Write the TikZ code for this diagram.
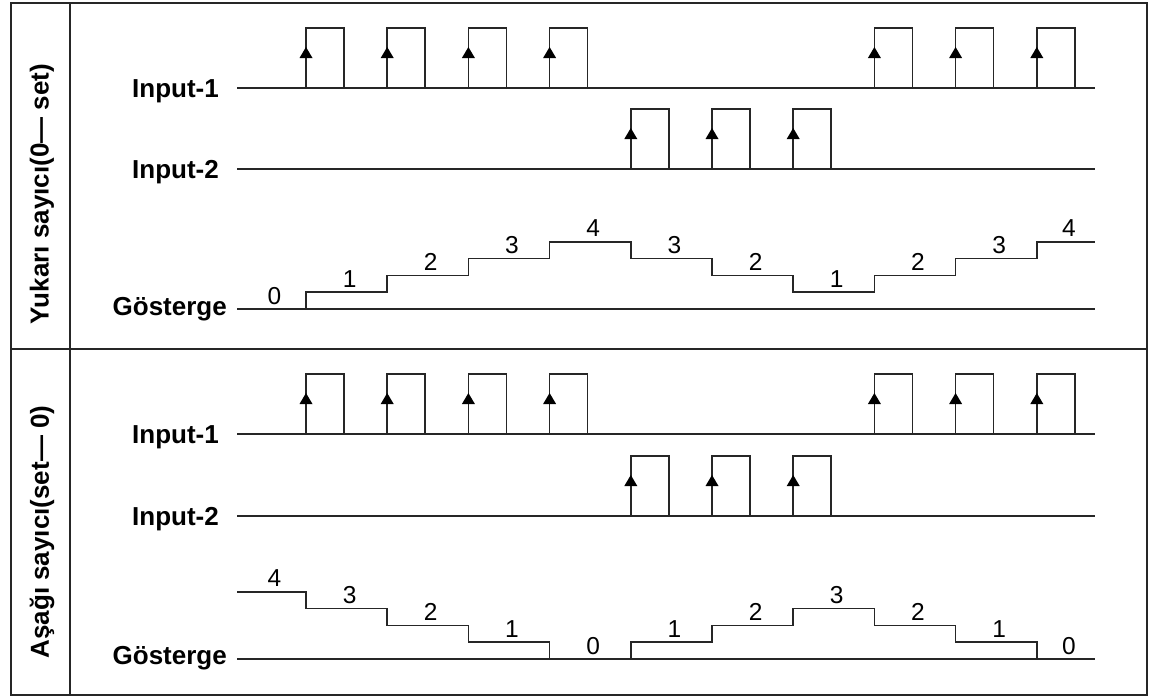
\documentclass[tikz,border=0pt]{standalone}
\usepackage{fontspec}
\setmainfont{Liberation Sans}
\begin{document}
\begin{tikzpicture}[x=1pt,y=-1pt,line join=miter,
  sig/.style={line width=1.6pt,draw=black!85},
  frame/.style={line width=1.8pt,draw=black!85},
  lbl/.style={font=\bfseries\fontsize{26}{28}\selectfont,anchor=base east,inner sep=0},
  num/.style={font=\fontsize{24.5}{26}\selectfont,anchor=base,inner sep=0},
  side/.style={font=\bfseries\fontsize{26}{28}\selectfont,rotate=90,inner sep=0},
  pulse/.pic={
    \draw[sig] (0,0) -- (0,-60) -- (38,-60) -- (38,0);
    \fill[black] (-6.5,-30) -- (6.5,-30) -- (0,-41) -- cycle;
  }]
\useasboundingbox (0,0) rectangle (1159,697);

% frame
\draw[frame] (11,3) rectangle (1147,695);
\draw[frame] (70,3) -- (70,695);
\draw[frame] (11,349) -- (1147,349);

% side labels
\node[side] (sideA) at (42,194) {Yukarı sayıcı(0--- set)};
\node[side] (sideB) at (42,532) {Aşağı sayıcı(set--- 0)};

% ===== top panel =====
\node[lbl] (a1) at (219,97) {Input-1};
\node[lbl] (a2) at (219,178) {Input-2};
\node[lbl] (a3) at (227,315) {Gösterge};
\draw[sig] (237,88) -- (1095,88);
\draw[sig] (237,169) -- (1095,169);
\draw[sig] (237,309) -- (1095,309);
\foreach \x in {306,387.2,468.4,549.6,874.4,955.6,1036.8}
  \pic at (\x,88) {pulse};
\foreach \x in {630.8,712,793.2}
  \pic at (\x,169) {pulse};
\draw[sig] (237,309) -| (306,292.2) -| (387.2,275.4) -| (468.4,258.6)
  -| (549.6,241.8) -| (630.8,258.6) -| (712,275.4) -| (793.2,292.2)
  -| (874.4,275.4) -| (955.6,258.6) -| (1036.8,241.8) -- (1095,241.8);
\foreach \x/\y/\t in {274.5/309/0,349.6/292.2/1,430.8/275.4/2,512/258.6/3,
  593.2/241.8/4,674.4/258.6/3,755.6/275.4/2,836.8/292.2/1,918/275.4/2,
  999.2/258.6/3,1068.9/241.8/4}
  \node[num] at (\x,\y-5) {\t};

% ===== bottom panel =====
\node[lbl] (b1) at (219,443) {Input-1};
\node[lbl] (b2) at (219,525) {Input-2};
\node[lbl] (b3) at (227,664) {Gösterge};
\draw[sig] (237,434) -- (1095,434);
\draw[sig] (237,516) -- (1095,516);
\draw[sig] (237,659) -- (1095,659);
\foreach \x in {306,387.2,468.4,549.6,874.4,955.6,1036.8}
  \pic at (\x,434) {pulse};
\foreach \x in {630.8,712,793.2}
  \pic at (\x,516) {pulse};
\draw[sig] (237,591.8) -| (306,608.6) -| (387.2,625.4) -| (468.4,642.2)
  -| (549.6,659) -| (630.8,642.2) -| (712,625.4) -| (793.2,608.6)
  -| (874.4,625.4) -| (955.6,642.2) -| (1036.8,659) -- (1095,659);
\foreach \x/\y/\t in {274.5/591.8/4,349.6/608.6/3,430.8/625.4/2,512/642.2/1,
  593.2/659/0,674.4/642.2/1,755.6/625.4/2,836.8/608.6/3,918/625.4/2,
  999.2/642.2/1,1068.9/659/0}
  \node[num] at (\x,\y-5) {\t};
\end{tikzpicture}
\end{document}
